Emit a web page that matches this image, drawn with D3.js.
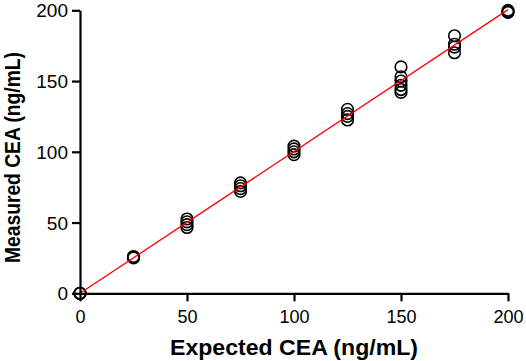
<!DOCTYPE html>
<html>
<head>
<meta charset="utf-8">
<script src="https://cdn.jsdelivr.net/npm/d3@7"></script>
<style>
  html, body { margin: 0; padding: 0; background: #fff; }
  svg { display: block; }
  text { font-family: Arial, "Liberation Sans", sans-serif; }
</style>
</head>
<body>
<svg id="chart" width="526" height="361"></svg>
<script>
// ---- data ----
const expectedLevels = [0, 25, 50, 75, 100, 125, 150, 175, 200];
const measuredReplicates = [
  [0, 0, 0],
  [25.5, 26, 25],
  [52.5, 50.5, 48.5, 46.5],
  [78, 76, 74, 72],
  [104, 102, 100, 98],
  [130, 127, 125, 122.5],
  [160, 153, 150, 147, 144, 142],
  [182, 176, 174, 170],
  [200, 199, 198.5]
];
const fitX = [0, 200];
const fitY = [0, 200.5];
const xTicks = [0, 50, 100, 150, 200];
const yTicks = [0, 50, 100, 150, 200];
const xTitle = "Expected CEA (ng/mL)";
const yTitle = "Measured CEA (ng/mL)";

// ---- layout ----
const svg = d3.select("#chart");
const x = d3.scaleLinear().domain([0, 200]).range([80, 508]);
const y = d3.scaleLinear().domain([0, 200]).range([293.3, 10.3]);

const points = [];
expectedLevels.forEach((e, i) => measuredReplicates[i].forEach(m => points.push({e, m})));

// points
svg.append("g").selectAll("circle").data(points).join("circle")
  .attr("cx", d => x(d.e)).attr("cy", d => y(d.m)).attr("r", 5.8)
  .attr("fill", "none").attr("stroke", "#000").attr("stroke-width", 1.6);

// fit line
svg.append("path")
  .datum(fitX.map((v, i) => [v, fitY[i]]))
  .attr("d", d3.line().x(d => x(d[0])).y(d => y(d[1])))
  .attr("fill", "none").attr("stroke", "#ff0000").attr("stroke-width", 1.3);

// axes
const xAxis = svg.append("g").attr("transform", "translate(0,293.3)")
  .call(d3.axisBottom(x).tickValues(xTicks).tickSize(8).tickPadding(5).tickSizeOuter(0));
const yAxis = svg.append("g").attr("transform", "translate(80,0)")
  .call(d3.axisLeft(y).tickValues(yTicks).tickSize(8).tickPadding(4).tickSizeOuter(0));
[xAxis, yAxis].forEach(a => {
  a.select(".domain").attr("stroke", "#000").attr("stroke-width", 2.2);
  a.selectAll(".tick line").attr("stroke", "#000").attr("stroke-width", 2.2);
  a.selectAll(".tick text").attr("fill", "#000")
   .style("font-family", "Arial, 'Liberation Sans', sans-serif");
});
xAxis.selectAll(".tick text").style("font-size", "18px").attr("dy", "0.95em");
yAxis.selectAll(".tick text").style("font-size", "19px").attr("dy", "0.35em");

// titles
svg.append("text")
  .attr("x", 294).attr("y", 355)
  .attr("text-anchor", "middle")
  .attr("textLength", 248).attr("lengthAdjust", "spacingAndGlyphs")
  .style("font-size", "22px").style("font-weight", "bold")
  .text(xTitle);

svg.append("text")
  .attr("transform", "translate(20,157.5) rotate(-90)")
  .attr("text-anchor", "middle")
  .attr("textLength", 211).attr("lengthAdjust", "spacingAndGlyphs")
  .style("font-size", "22px").style("font-weight", "bold")
  .text(yTitle);
</script>
</body>
</html>
